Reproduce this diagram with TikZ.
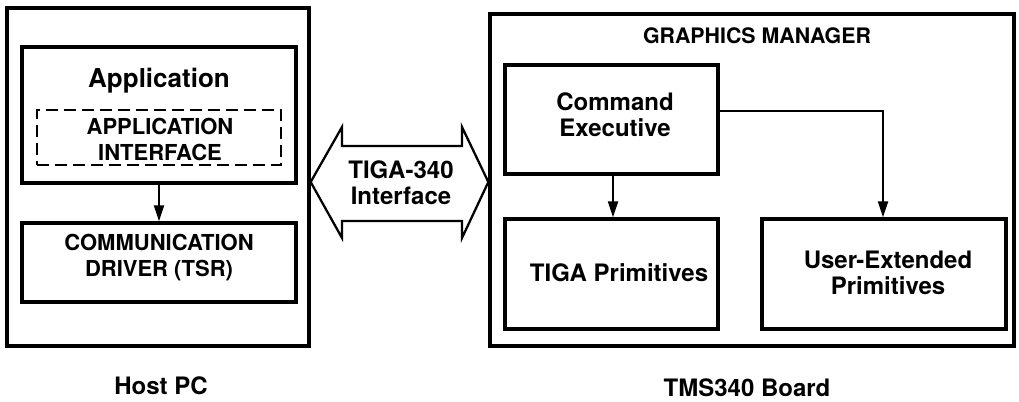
\documentclass[tikz,border=0pt]{standalone}
\usepackage{fontspec}
\setmainfont{TeX Gyre Heros}
\usetikzlibrary{arrows.meta}
\tikzset{
  px/.style={x=0.75pt,y=-0.75pt},
  box/.style={draw,line width=2.5pt,inner sep=0pt,rectangle},
  dbox/.style={draw,line width=1.7pt,inner sep=0pt,rectangle,dash pattern=on 9pt off 4.5pt},
  lbl/.style={font=\bfseries\fontsize{18}{19.5}\selectfont,align=center,inner sep=0pt},
  caps/.style={font=\bfseries\fontsize{16.5}{19.5}\selectfont,align=center,inner sep=0pt},
  flow/.style={line width=1.6pt,-{Triangle[length=12pt,width=7.5pt]}},
}
\begin{document}
\begin{tikzpicture}[px]
\useasboundingbox (0,0) rectangle (1019,402);
% Host PC side
\node[box,minimum width=226.5pt,minimum height=253.5pt] (host) at (158,177) {};
\node[box,minimum width=205.5pt,minimum height=102pt] (app) at (159,115) {};
\node[dbox,minimum width=183pt,minimum height=41.25pt] (api) at (159,137.5) {};
\node[box,minimum width=205.5pt,minimum height=59.25pt] (comm) at (159,262.5) {};
\node[lbl,font=\bfseries\fontsize{19.5}{21}\selectfont] (appl) at (159,81) {Application};
\node[caps] (apit) at (160,139) {APPLICATION\\INTERFACE};
\node[caps] (commt) at (159,258) {COMMUNICATION\\DRIVER (TSR)};
\node[lbl] (hostl) at (161,386) {Host PC};
\draw[flow] (app.south) -- (comm.north);
% TMS340 side
\node[box,minimum width=393pt,minimum height=249pt] (board) at (752,180) {};
\node[caps,font=\bfseries\fontsize{16}{19}\selectfont] (gm) at (757,36) {GRAPHICS MANAGER};
\node[box,minimum width=159.75pt,minimum height=81.75pt] (ce) at (611.5,119.5) {};
\node[box,minimum width=159.75pt,minimum height=82.5pt] (tp) at (611.5,274) {};
\node[box,minimum width=183pt,minimum height=82.5pt] (ue) at (884,274) {};
\node[lbl] (cet) at (615,115) {Command\\Executive};
\node[lbl] (tpt) at (619,273) {TIGA Primitives};
\node[lbl] (uet) at (888,272.5) {User-Extended\\Primitives};
\node[lbl] (tmsl) at (747,388) {TMS340 Board};
\coordinate (c1) at (613,0);
\coordinate (c2) at (883,111);
\draw[flow] (ce.south -| c1) -- (tp.north -| c1);
\draw[flow] (ce.east |- c2) -- (c2) -- (ue.north -| c2);
% TIGA-340 interface double arrow
\draw[line width=1.7pt,line join=miter]
  (host.east |- 0,182) -- (342,127) -- (342,146) -- (462,146) -- (462,127)
  -- (board.west |- 0,182) -- (462,238) -- (462,221) -- (342,221) -- (342,238) -- cycle;
\node[lbl] (tiga) at (401,183) {TIGA-340\\Interface};
\end{tikzpicture}
\end{document}
